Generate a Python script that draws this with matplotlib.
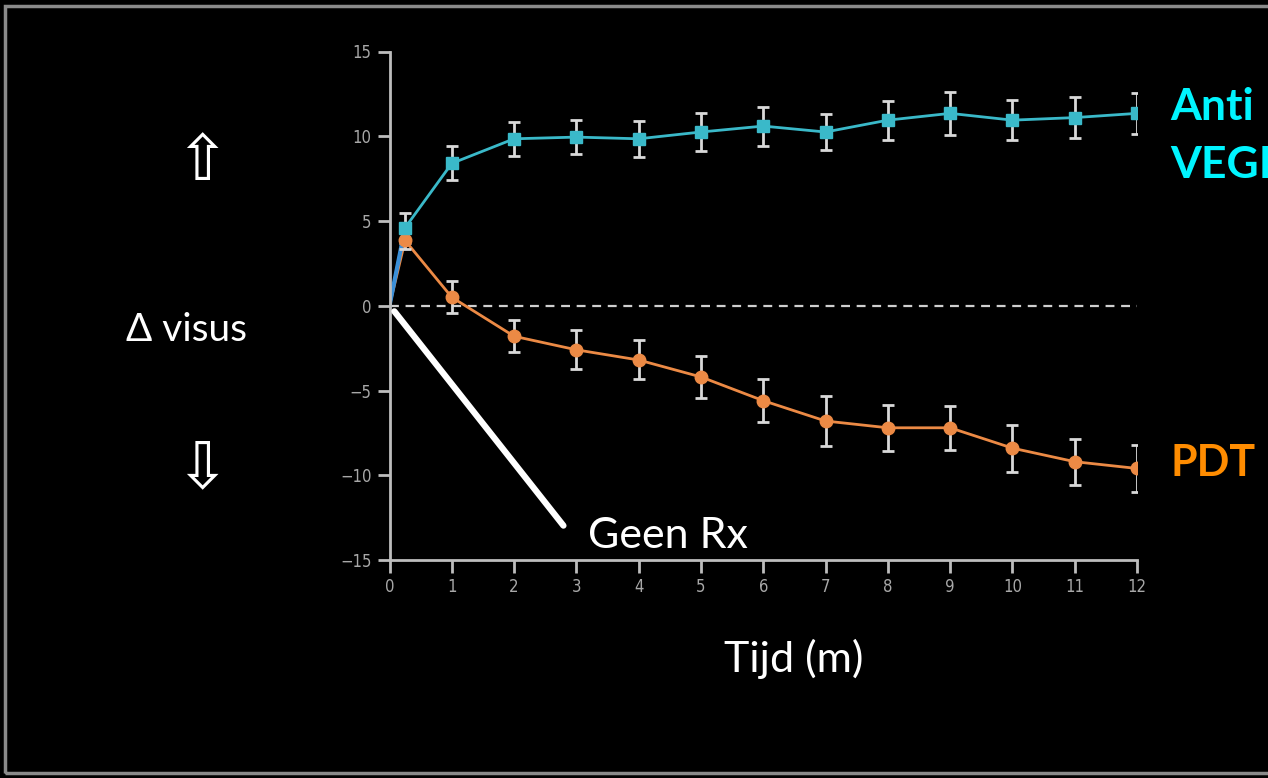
import matplotlib
matplotlib.use("Agg")
import matplotlib.pyplot as plt
from matplotlib.patches import Rectangle

# ---- data ----
months = [0, 0.25, 1, 2, 3, 4, 5, 6, 7, 8, 9, 10, 11, 12]
anti_vegf = [0, 4.6, 8.4, 9.85, 9.95, 9.85, 10.25, 10.6, 10.25, 10.95, 11.35, 10.95, 11.1, 11.35]
anti_err = [0, 0.9, 1.0, 1.0, 1.0, 1.05, 1.1, 1.15, 1.05, 1.15, 1.25, 1.2, 1.2, 1.2]
pdt = [0, 3.85, 0.5, -1.8, -2.6, -3.2, -4.2, -5.6, -6.8, -7.2, -7.2, -8.4, -9.2, -9.6]
pdt_err = [0, 0.5, 0.95, 0.95, 1.15, 1.15, 1.25, 1.25, 1.45, 1.35, 1.3, 1.38, 1.35, 1.4]
x_ticks = list(range(0, 13))
y_ticks = [-15, -10, -5, 0, 5, 10, 15]
y_ticklabels = ["\u221215", "\u221210", "\u22125", "0", "5", "10", "15"]

W, H = 1268, 778
fig = plt.figure(figsize=(W / 100, H / 100), dpi=100, facecolor="black")

# frame
fig.patches.append(Rectangle((5 / W, 5 / H), 1.2, 1 - 11 / H, transform=fig.transFigure,
                             fill=False, edgecolor="#8a8a8a", linewidth=2.5))

ax = fig.add_axes([389.5 / W, 1 - 560 / H, (1137 - 389.5) / W, (560 - 51.5) / H])
ax.set_facecolor("black")
ax.set_xlim(0, 12)
ax.set_ylim(-15, 15)

teal = "#3ab9c9"
orange = "#ec8a45"
errc = "#d9d9d9"

ax.axhline(0, color="#cfcfcf", lw=1.6, dashes=(4, 3), zorder=1)

# PDT
ax.errorbar(months[1:], pdt[1:], yerr=pdt_err[1:], fmt="none", ecolor=errc,
            elinewidth=2, capsize=4, capthick=2, zorder=3)
ax.plot(months, pdt, color=orange, lw=2, zorder=2)
ax.plot(months[1:], pdt[1:], "o", color=orange, ms=9, zorder=4)

# Anti-VEGF
ax.errorbar(months[1:], anti_vegf[1:], yerr=anti_err[1:], fmt="none", ecolor=errc,
            elinewidth=2, capsize=4, capthick=2, zorder=3)
ax.plot(months, anti_vegf, color=teal, lw=2, zorder=2)
ax.plot(months[:2], anti_vegf[:2], color="#3a8fd8", lw=3, zorder=2.5)
ax.plot(months[1:], anti_vegf[1:], "s", color=teal, ms=9, zorder=4)

for side in ["top", "right"]:
    ax.spines[side].set_visible(False)
for side in ["left", "bottom"]:
    ax.spines[side].set_color("#bdbdbd")
    ax.spines[side].set_linewidth(2)
ax.set_xticks(x_ticks)
ax.set_yticks(y_ticks)
ax.set_yticklabels(y_ticklabels)
ax.tick_params(colors="#bdbdbd", labelcolor="#a8a8a8", labelsize=12, width=2, length=9,
               direction="out", pad=4)
for lab in ax.get_xticklabels() + ax.get_yticklabels():
    lab.set_fontfamily("DejaVu Sans")
    lab.set_fontstretch("condensed")

# "Geen Rx" pointer line
ax.annotate("", xy=(0.05, -0.2), xytext=(2.82, -13.1),
            arrowprops=dict(arrowstyle="-", color="white", lw=4.5), zorder=5)

def ftext(px, py, s, **kw):
    fig.text(px / W, 1 - py / H, s, **kw)

ftext(588, 548, "Geen Rx", color="white", fontsize=31, family="Lato", va="baseline")
ftext(724, 672, "Tijd (m)", color="white", fontsize=31, family="Lato", va="baseline")
ftext(126, 341, "\u0394 visus", color="white", fontsize=28, family="Lato", va="baseline")
ftext(1170, 120, "Anti", color="#00f5ff", fontsize=32, family="Lato", weight="bold", va="baseline")
ftext(1170, 178, "VEGF", color="#00f5ff", fontsize=32, family="Lato", weight="bold", va="baseline")
ftext(1170, 476, "PDT", color="#ff8c00", fontsize=31, family="Lato", weight="bold", va="baseline")
ftext(202, 162, "\u21e7", color="white", fontsize=46, family="DejaVu Sans", ha="center", va="center")
ftext(202, 469, "\u21e9", color="white", fontsize=46, family="DejaVu Sans", ha="center", va="center")

fig.savefig("out.png", dpi=100, facecolor="black")
